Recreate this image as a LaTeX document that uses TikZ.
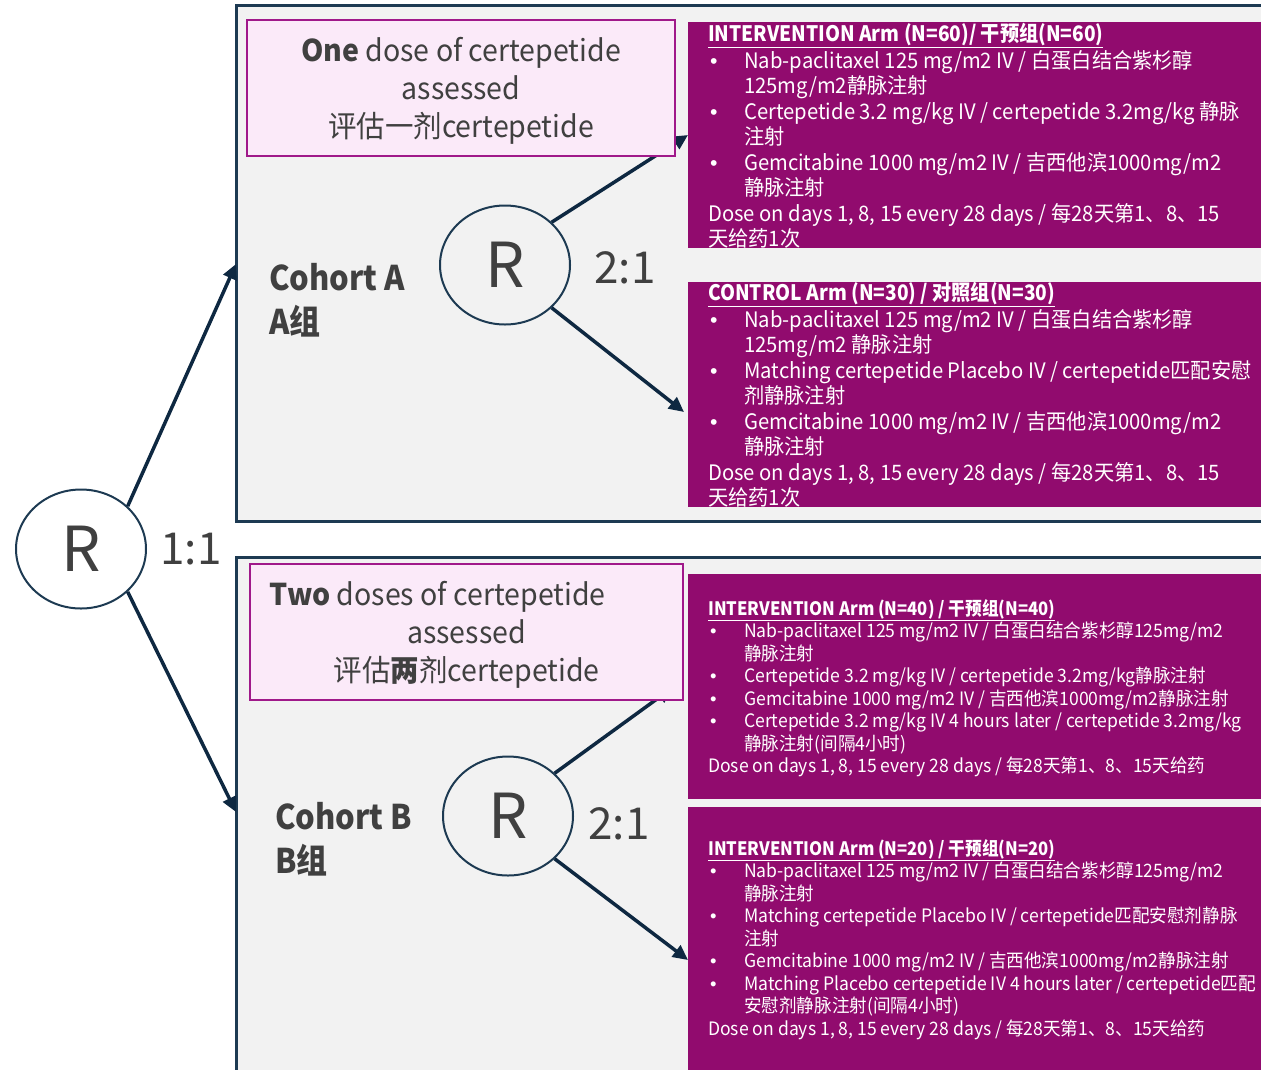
\documentclass[tikz,border=0pt]{standalone}
\usepackage{fontspec}
\setmainfont{Noto Sans CJK SC}
\newfontfamily\armfont[FakeStretch=0.95]{Noto Sans CJK SC}
\newfontfamily\hdfont[FakeStretch=0.9]{Noto Sans CJK SC}
\newfontfamily\cohfont[FakeStretch=0.91]{Noto Sans CJK SC}
\newfontfamily\bulfont{Liberation Sans}
\usetikzlibrary{shapes.geometric,arrows.meta}
\definecolor{frameblue}{HTML}{1D3A52}
\definecolor{arrowblue}{HTML}{0E2841}
\definecolor{armpurple}{HTML}{910B6E}
\definecolor{pinkfill}{HTML}{FBEAF9}
\definecolor{pinkline}{HTML}{A0198A}
\definecolor{framefill}{HTML}{F2F2F2}
\definecolor{txtgray}{HTML}{404040}
\newcommand\mybul{\makebox[36pt][l]{\hspace*{2pt}{\bulfont •}}}
\newcommand\myind{\hspace*{36pt}}
\newcommand\myhead[1]{\underline{{\hdfont\bfseries #1}}}
\tikzset{
  cohortframe/.style={draw=frameblue, fill=framefill, line width=3pt},
  armbox/.style={fill=armpurple},
  arr/.style={draw=arrowblue, line width=3.5pt, -{Triangle[length=15pt,width=14pt]}},
  rnode/.style={ellipse, draw=frameblue, line width=2pt, minimum width=130pt, minimum height=119pt, inner sep=0pt, text=txtgray, font=\fontsize{62}{62}\selectfont},
  ratio/.style={text=txtgray, inner sep=0pt, font=\fontsize{44}{44}\selectfont},
  pinkbox/.style={draw=pinkline, fill=pinkfill, line width=2pt, align=center, text=txtgray, inner sep=0pt, font=\armfont\fontsize{30}{38}\selectfont},
  cohort/.style={align=left, text=txtgray, inner sep=0pt, font=\cohfont\fontsize{34}{44}\selectfont\bfseries},
  armtextL/.style={align=left, text=white, inner sep=0pt, anchor=north west, font=\armfont\fontsize{21.3}{25.5}\selectfont},
  armtextS/.style={align=left, text=white, inner sep=0pt, anchor=north west, font=\armfont\fontsize{18.5}{22.5}\selectfont},
}
\begin{document}
\begin{tikzpicture}[x=1pt,y=-1pt]
\useasboundingbox (0,0) rectangle (1261,1069);
% cohort frames
\draw[cohortframe] (236,5) rectangle (1280,521);
\draw[cohortframe] (236,557) rectangle (1280,1085);
% arm boxes
\fill[armbox] (688,22) rectangle (1270,248);
\fill[armbox] (688,282) rectangle (1270,507);
\fill[armbox] (688,574) rectangle (1270,799);
\fill[armbox] (688,807) rectangle (1270,1075);
% randomisation nodes
\node[rnode] (R0) at (81,549) {R};
\node[rnode] (RA) at (505,265) {R};
\node[rnode] (RB) at (508,816) {R};
% arrow ends
\coordinate (cA) at (236,264);
\coordinate (cB) at (236,812);
\coordinate (a1) at (688,135);
\coordinate (a2) at (684,412);
\coordinate (b1) at (672,688);
\coordinate (b2) at (688,960);
\draw[arr] (R0.north east) -- (cA);
\draw[arr] (R0.south east) -- (cB);
\draw[arr] (RA.north east) -- (a1);
\draw[arr] (RA.south east) -- (a2);
\draw[arr] (RB.north east) -- (b1);
\draw[arr] (RB.south east) -- (b2);
% pink boxes
\node[pinkbox, minimum width=428pt, minimum height=136pt] (PA) at (461,88)
  {\rule{0pt}{29.5pt}\textbf{One} dose of certepetide\\assessed\\评估一剂certepetide};
\node[pinkbox, minimum width=433pt, minimum height=136pt] (PB) at (466.5,632)
  {\rule{0pt}{29.5pt}\textbf{Two} doses of certepetide\hspace*{58pt}\\assessed\\评估\textbf{两}剂certepetide};
% ratios
\node[ratio] (q0) at (191,549) {1:1};
\node[ratio] (qA) at (625,268) {2:1};
\node[ratio] (qB) at (619,824) {2:1};
% cohort labels
\node[cohort, anchor=west] (CA) at (269,300) {Cohort A\\A组};
\node[cohort, anchor=west] (CB) at (275,839) {Cohort B\\B组};
% arm texts
\node[armtextL] (tA1) at (708,23) {\strut\myhead{INTERVENTION Arm (N=60)/ 干预组(N=60)}\\
\mybul Nab-paclitaxel 125 mg/m2 IV / 白蛋白结合紫杉醇\\
\myind 125mg/m2静脉注射\\
\mybul Certepetide 3.2 mg/kg IV / certepetide 3.2mg/kg 静脉\\
\myind 注射\\
\mybul Gemcitabine 1000 mg/m2 IV / 吉西他滨1000mg/m2\\
\myind 静脉注射\\
Dose on days 1, 8, 15 every 28 days / 每28天第1、8、15\\
天给药1次};
\node[armtextL] (tA2) at (708,282) {\strut\myhead{CONTROL Arm (N=30) / 对照组(N=30)}\\
\mybul Nab-paclitaxel 125 mg/m2 IV / 白蛋白结合紫杉醇\\
\myind 125mg/m2 静脉注射\\
\mybul Matching certepetide Placebo IV / certepetide匹配安慰\\
\myind 剂静脉注射\\
\mybul Gemcitabine 1000 mg/m2 IV / 吉西他滨1000mg/m2\\
\myind 静脉注射\\
Dose on days 1, 8, 15 every 28 days / 每28天第1、8、15\\
天给药1次};
\node[armtextS] (tB1) at (708,599) {\strut\myhead{INTERVENTION Arm (N=40) / 干预组(N=40)}\\
\mybul Nab-paclitaxel 125 mg/m2 IV / 白蛋白结合紫杉醇125mg/m2\\
\myind 静脉注射\\
\mybul Certepetide 3.2 mg/kg IV / certepetide 3.2mg/kg静脉注射\\
\mybul Gemcitabine 1000 mg/m2 IV / 吉西他滨1000mg/m2静脉注射\\
\mybul Certepetide 3.2 mg/kg IV 4 hours later / certepetide 3.2mg/kg\\
\myind 静脉注射(间隔4小时)\\
Dose on days 1, 8, 15 every 28 days / 每28天第1、8、15天给药};
\node[armtextS] (tB2) at (708,839) {\strut\myhead{INTERVENTION Arm (N=20) / 干预组(N=20)}\\
\mybul Nab-paclitaxel 125 mg/m2 IV / 白蛋白结合紫杉醇125mg/m2\\
\myind 静脉注射\\
\mybul Matching certepetide Placebo IV / certepetide匹配安慰剂静脉\\
\myind 注射\\
\mybul Gemcitabine 1000 mg/m2 IV / 吉西他滨1000mg/m2静脉注射\\
\mybul Matching Placebo certepetide IV 4 hours later / certepetide匹配\\
\myind 安慰剂静脉注射(间隔4小时)\\
Dose on days 1, 8, 15 every 28 days / 每28天第1、8、15天给药};
\end{tikzpicture}
\end{document}
